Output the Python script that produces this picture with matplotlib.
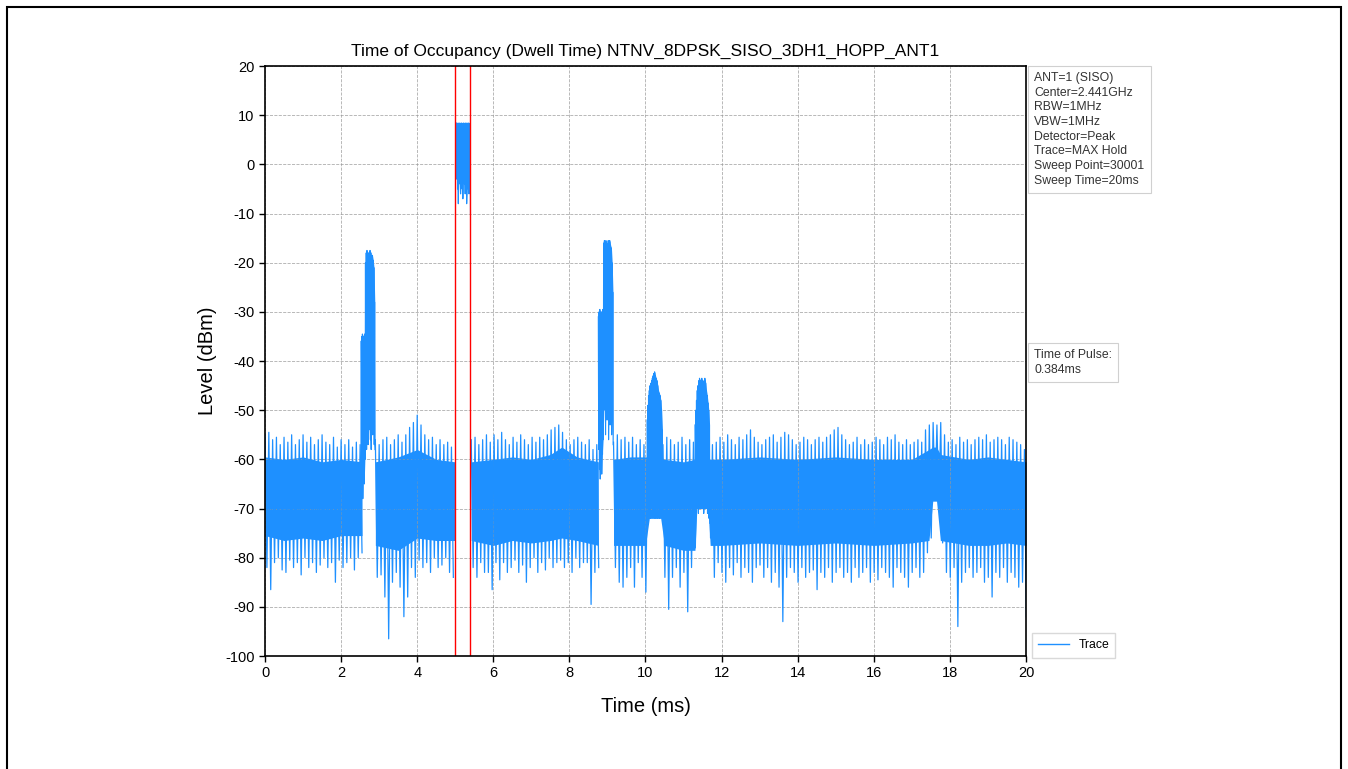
import numpy as np
import matplotlib.pyplot as plt
from matplotlib.patches import Rectangle

plt.rcParams['font.family'] = ['Liberation Sans', 'DejaVu Sans']
plt.rcParams['path.simplify'] = False
plt.rcParams['axes.unicode_minus'] = False

TRACE_COLOR = '#1E90FF'

# ---- noise floor: local max / local min every 0.1 ms, per segment ----
seg_start = [0.0, 2.9, 5.42, 9.16]

hi_a = [-55, -54.5, -56, -55.5, -57, -55.5, -56.5, -55, -57, -56,
        -55, -56.5, -55.5, -57, -56, -55, -56.5, -57, -55.5, -57.5,
        -56, -57, -56, -57.5, -56.5, -57]
lo_a = [-82, -86.5, -81, -80, -82.5, -83, -80.5, -82, -81, -83.5,
        -80, -82, -81, -83, -81.5, -80, -82, -81, -85, -80.5,
        -82, -81, -80, -82.5, -80, -79]

hi_b = [-56, -57, -56, -55.5, -57, -56, -55, -56.5, -55, -53.5,
        -52.5, -51, -53, -55, -56, -55.5, -57, -56, -57, -56.5,
        -57.5]
lo_b = [-84, -83.5, -88, -96.5, -85, -83, -86, -92, -88, -82,
        -84, -80.5, -82, -81, -83, -80, -82, -81.5, -80, -83,
        -84]

hi_c = [-56, -55.5, -57, -56, -55, -56.5, -55, -56, -54.5, -56,
        -57, -55.5, -56.5, -55, -56, -57, -55.5, -56.5, -55.5, -56,
        -55, -54, -53.5, -53, -54.5, -56, -57, -56, -55.5, -56.5,
        -57, -56, -58, -57]
lo_c = [-82, -84, -81, -83, -83, -86.5, -81, -84.5, -81, -83,
        -82, -80.5, -83, -81.5, -85, -82, -80, -83, -81, -82.5,
        -80, -82, -81, -80.5, -82, -81, -83, -80, -82, -81,
        -81, -89.5, -83, -82]

hi_d = [-56.5, -55, -56, -55.5, -56.5, -55.5, -57, -56, -57, -56,
        -57, -56, -56.5, -57, -55.5, -56, -57, -56.5, -55.5, -57,
        -56, -56.5, -56, -56, -56, -56.5, -57, -56.5, -55.5, -56.5,
        -55, -56, -57, -55.5, -56, -55, -54, -55.5, -56.5, -57,
        -56, -55.5, -55, -56.5, -55.5, -54.5, -55, -56, -57, -56.5,
        -55.5, -56, -57, -56, -55.5, -56.5, -55.5, -55, -54, -53.5,
        -55, -56, -57, -56.5, -55.5, -57, -56, -57, -56.5, -55.5,
        -56, -57, -55.5, -56, -55, -56.5, -57, -56, -57, -56.5,
        -56, -56.5, -54, -53, -52.5, -53, -52.5, -55, -56.5, -56,
        -57, -55.5, -56.5, -56, -57, -56, -55.5, -56, -55, -56.5,
        -56, -55.5, -56, -57, -55.5, -56, -56.5, -57, -58]
lo_d = [-82, -85, -86, -84, -82, -86, -81, -84, -87, -72,
        -71, -72, -71, -84, -90.5, -84, -82, -86, -83, -91,
        -82, -78, -70, -68, -69, -76, -84, -81, -83, -85,
        -82, -83.5, -81, -84, -82, -83, -85, -82, -81.5, -84,
        -82, -85, -83, -86, -93, -84, -82, -83, -85, -82,
        -84, -83, -82.5, -86.5, -83, -84, -82, -85, -83, -82,
        -84, -83, -85, -82, -84, -83, -82, -85, -83, -84.5,
        -82, -83, -84, -86, -82, -83, -84, -86, -83, -82,
        -84, -83, -79, -76, -68, -70, -77, -83, -84, -82,
        -94, -85, -83, -82, -84, -83, -82, -85, -84, -88,
        -83, -84, -82, -85, -83, -84, -86, -85, -92]

noise_hi = [hi_a, hi_b, hi_c, hi_d]
noise_lo = [lo_a, lo_b, lo_c, lo_d]
noise_step = 0.1

# ---- dense core of the noise floor (solid part of the trace) ----
core_t = [[0.0, 0.5, 1.0, 1.5, 2.0, 2.55],
          [2.9, 3.5, 4.0, 4.5, 4.99],
          [5.42, 6.0, 6.5, 7.0, 7.5, 7.8, 8.2, 8.76],
          [9.16, 9.6, 10.0, 10.1, 10.4, 10.5, 11.0, 11.3, 11.35, 11.65, 11.7,
           12.0, 13.0, 14.0, 15.0, 16.0, 17.0, 17.45, 17.55, 17.65, 17.75,
           18.5, 19.0, 19.5, 20.0]]
core_hi = [[-59.5, -60, -59.5, -60.5, -60, -60.5],
           [-60.5, -59.5, -58, -60, -60.5],
           [-60.5, -60, -59.5, -60, -59, -57.5, -59.5, -60.5],
           [-60, -59.5, -59.5, -59.5, -59.5, -60, -60.5, -60, -59.5, -59.5, -60,
            -60, -59.5, -60, -59.5, -60, -60, -58, -57.5, -57.5, -59,
            -60, -59.5, -60, -60.5]]
core_lo = [[-75.5, -76.5, -76, -76.5, -75.5, -75.5],
           [-77.5, -78.5, -76, -76.5, -76.5],
           [-76.5, -77.5, -76.5, -77, -76.5, -76, -76.5, -77.5],
           [-77.5, -77.5, -77.5, -72, -72, -77.5, -78.5, -78.5, -70, -70, -77.5,
            -77.5, -77, -77.5, -77, -77.5, -77, -76.5, -68.5, -68.5, -76.5,
            -77.5, -77.5, -77, -77.5]]

# ---- hopping bursts: local max / local min every 0.02 ms ----
b1_t = [2.52, 2.54, 2.56, 2.58, 2.60, 2.62, 2.64, 2.66, 2.68, 2.70,
        2.72, 2.74, 2.76, 2.78, 2.80, 2.82, 2.84, 2.86, 2.88]
b1_hi = [-36, -35, -34.5, -35, -35.5, -34.5, -20, -18, -17.5, -19,
         -18, -18.5, -17.5, -18, -19, -18.5, -19.5, -21, -28]
b1_lo = [-60, -66, -68, -63, -65, -60, -55, -58, -52, -57,
         -54, -50, -56, -58, -53, -55, -51, -57, -58]

b2_t = [5.03, 5.05, 5.07, 5.09, 5.11, 5.13, 5.15, 5.17, 5.19, 5.21,
        5.23, 5.25, 5.27, 5.29, 5.31, 5.33, 5.35, 5.37, 5.39]
b2_hi = [8.4, 8.4, 8.3, 8.4, 8.4, 8.3, 8.4, 8.4, 8.3, 8.4,
         8.4, 8.3, 8.4, 8.4, 8.3, 8.4, 8.4, 8.3, 8.4]
b2_lo = [-3, -5, -8, -4, -2, -6, -3, -5, -7, -2,
         -4, -6, -3, -8, -5, -2, -6, -4, -10]

b3_t = [8.76, 8.78, 8.80, 8.82, 8.84, 8.86, 8.88, 8.90, 8.92, 8.94,
        8.96, 8.98, 9.00, 9.02, 9.04, 9.06, 9.08, 9.10, 9.12, 9.14]
b3_hi = [-31, -30, -29.5, -30.5, -30, -31, -29.5, -16, -15.5, -16.5,
         -15.5, -16, -17, -15.5, -16, -15.5, -16.5, -17, -20, -26]
b3_lo = [-58, -62, -64, -60, -63, -59, -56, -50, -48, -55,
         -46, -52, -49, -56, -47, -53, -50, -55, -52, -57]

b4_t = [10.04, 10.06, 10.08, 10.10, 10.12, 10.14, 10.16, 10.18, 10.20, 10.22,
        10.24, 10.26, 10.28, 10.30, 10.32, 10.34, 10.36, 10.38, 10.40, 10.42, 10.44]
b4_hi = [-52, -49, -47, -46, -45, -44.5, -44, -43.5, -43, -42.5,
         -42.2, -43, -43.5, -44, -45, -46, -46.5, -47, -48, -50, -54]
b4_lo = [-70, -68, -71, -69, -72, -68, -70, -71, -69, -68,
         -72, -70, -69, -71, -68, -70, -72, -69, -71, -70, -73]

b5_t = [11.30, 11.32, 11.34, 11.36, 11.38, 11.40, 11.42, 11.44, 11.46, 11.48,
        11.50, 11.52, 11.54, 11.56, 11.58, 11.60, 11.62, 11.64, 11.66, 11.68]
b5_hi = [-53, -50, -48, -46, -45, -44, -43.5, -44, -44.5, -43.5,
         -44, -45, -44, -43.5, -44.5, -46, -47, -48.5, -50, -53]
b5_lo = [-68, -70, -67, -69, -71, -68, -70, -69, -67, -70,
         -68, -71, -69, -70, -68, -69, -71, -70, -72, -73]

bursts = [(b1_t, b1_hi, b1_lo), (b2_t, b2_hi, b2_lo), (b3_t, b3_hi, b3_lo),
          (b4_t, b4_hi, b4_lo), (b5_t, b5_hi, b5_lo)]
burst_step = 0.02

pulse_start = 5.0
pulse_len = 0.384

info_lines = ['ANT=1 (SISO)', 'Center=2.441GHz', 'RBW=1MHz', 'VBW=1MHz',
              'Detector=Peak', 'Trace=MAX Hold', 'Sweep Point=30001',
              'Sweep Time=20ms']
pulse_lines = ['Time of Pulse:', '0.384ms']


def zigzag(t, hi, lo, step):
    # max-hold trace alternates between local peaks and local troughs
    t = np.asarray(t, dtype=float)
    tt = np.column_stack([t, t + step / 2]).ravel()
    vv = np.column_stack([hi, lo]).ravel()
    return tt, vv


fig = plt.figure(figsize=(13.48, 7.69), dpi=100)
ax = fig.add_axes([0.1966, 0.1469, 0.5645, 0.7672])

for ct, ch, cl in zip(core_t, core_hi, core_lo):
    ax.fill_between(ct, ch, cl, color=TRACE_COLOR, linewidth=0)

for start, hi, lo in zip(seg_start, noise_hi, noise_lo):
    t = start + noise_step * np.arange(len(hi))
    tt, vv = zigzag(t, hi, lo, noise_step)
    ax.plot(tt, vv, color=TRACE_COLOR, linewidth=0.9)

for bt, bh, bl in bursts:
    bt = np.asarray(bt)
    ax.fill_between(bt + burst_step / 4, bh, bl, color=TRACE_COLOR, linewidth=0)
    tt, vv = zigzag(bt, bh, bl, burst_step)
    ax.plot(tt, vv, color=TRACE_COLOR, linewidth=0.8)

ax.axvline(pulse_start, color='red', linewidth=1.0)
ax.axvline(pulse_start + pulse_len, color='red', linewidth=1.0)

ax.set_xlim(0, 20)
ax.set_ylim(-100, 20)
ax.set_xticks(np.arange(0, 21, 2))
ax.set_yticks(np.arange(-100, 21, 10))
ax.tick_params(labelsize=10.5, length=4, width=1)
ax.grid(True, linestyle='--', linewidth=0.6, color='#999999', alpha=0.8)
for s in ax.spines.values():
    s.set_linewidth(1.2)

ax.set_title('Time of Occupancy (Dwell Time) NTNV_8DPSK_SISO_3DH1_HOPP_ANT1',
             fontsize=12.5, pad=7)
ax.set_xlabel('Time (ms)', fontsize=14.5, labelpad=12)
ax.set_ylabel('Level (dBm)', fontsize=14.5, labelpad=6)

box = dict(boxstyle='square,pad=0.5', fc='white', ec='#d0d0d0', lw=0.8)
ax.text(1.011, 0.99, '\n'.join(info_lines), transform=ax.transAxes,
        ha='left', va='top', fontsize=8.8, color='#333333', bbox=box,
        linespacing=1.3)
ax.text(1.011, 0.52, '\n'.join(pulse_lines), transform=ax.transAxes,
        ha='left', va='top', fontsize=8.8, color='#333333', bbox=box,
        linespacing=1.3)

handle = plt.Line2D([], [], color=TRACE_COLOR, linewidth=1.0)
ax.legend([handle], ['Trace'], loc='lower left', bbox_to_anchor=(1.0, -0.013),
          fontsize=8.8, frameon=True, edgecolor='#d0d0d0', fancybox=False,
          handlelength=2.5, borderpad=0.5)

fig.patches.append(Rectangle((7 / 1348, -0.01), 1334 / 1348, 1.01 - 7 / 769,
                             transform=fig.transFigure, fill=False,
                             edgecolor='black', linewidth=1.5))

fig.savefig('out.png', dpi=100)
